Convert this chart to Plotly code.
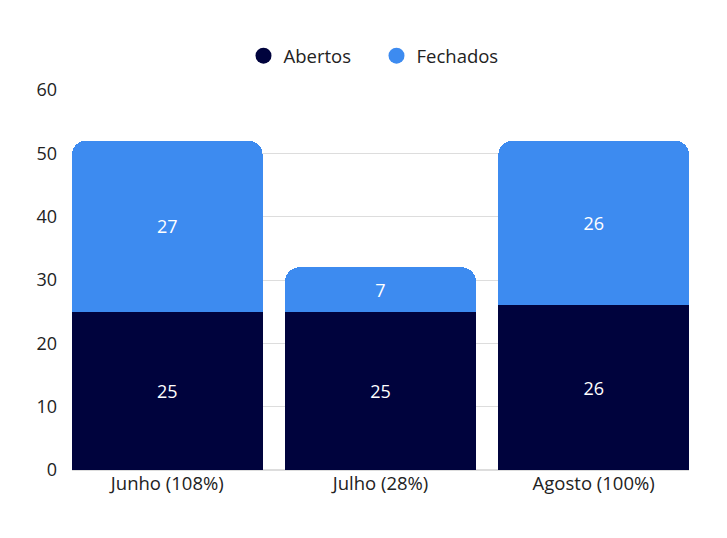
import plotly.graph_objects as go

# dados do gráfico
meses = ["Junho (108%)", "Julho (28%)", "Agosto (100%)"]
abertos = [25, 25, 26]
fechados = [27, 7, 26]

cor_abertos = "#00033D"
cor_fechados = "#3D8BF0"

GAP = 0.106

fig = go.Figure()

for nome, valores, cor in [("Abertos", abertos, cor_abertos),
                           ("Fechados", fechados, cor_fechados)]:
    fig.add_trace(go.Bar(
        x=meses, y=valores, name=nome,
        marker=dict(color=cor, line=dict(width=0)), showlegend=False,
        text=valores, textposition="inside", insidetextanchor="middle",
        textfont=dict(color="white", size=18),
        hoverinfo="x+y+name",
    ))

# legenda com círculos
for nome, cor in [("Abertos", cor_abertos), ("Fechados", cor_fechados)]:
    fig.add_trace(go.Scatter(
        x=[None], y=[None], mode="markers", name=nome,
        marker=dict(symbol="circle", size=16, color=cor),
    ))

fig.update_layout(
    barmode="stack",
    bargap=GAP,
    barcornerradius=14,
    width=727, height=538,
    margin=dict(l=72, r=38, t=90, b=68, autoexpand=False),
    paper_bgcolor="white",
    plot_bgcolor="white",
    font=dict(family="Open Sans", size=18, color="#222222"),
    legend=dict(
        orientation="h", x=0.4935, xanchor="center", y=1.089, yanchor="middle",
        font=dict(size=18.5), itemsizing="trace", entrywidth=88,
        traceorder="normal",
    ),
    uniformtext=dict(mode="show", minsize=10),
)

fig.update_yaxes(
    range=[0, 60], dtick=10, showgrid=True, gridcolor="#DDDDDD", gridwidth=1,
    zeroline=True, zerolinecolor="#DDDDDD", ticks="", ticklabelstandoff=14,
    tickfont=dict(size=18), automargin=False,
)
# barras encostam nas bordas da área do gráfico
fig.update_xaxes(showgrid=False, ticks="", tickfont=dict(size=18.5),
                 automargin=False,
                 range=[-0.5 + GAP / 2, len(meses) - 0.5 - GAP / 2])

fig.write_html("out.html", config={"displayModeBar": False},
               post_script="document.body.style.margin='0px';")
